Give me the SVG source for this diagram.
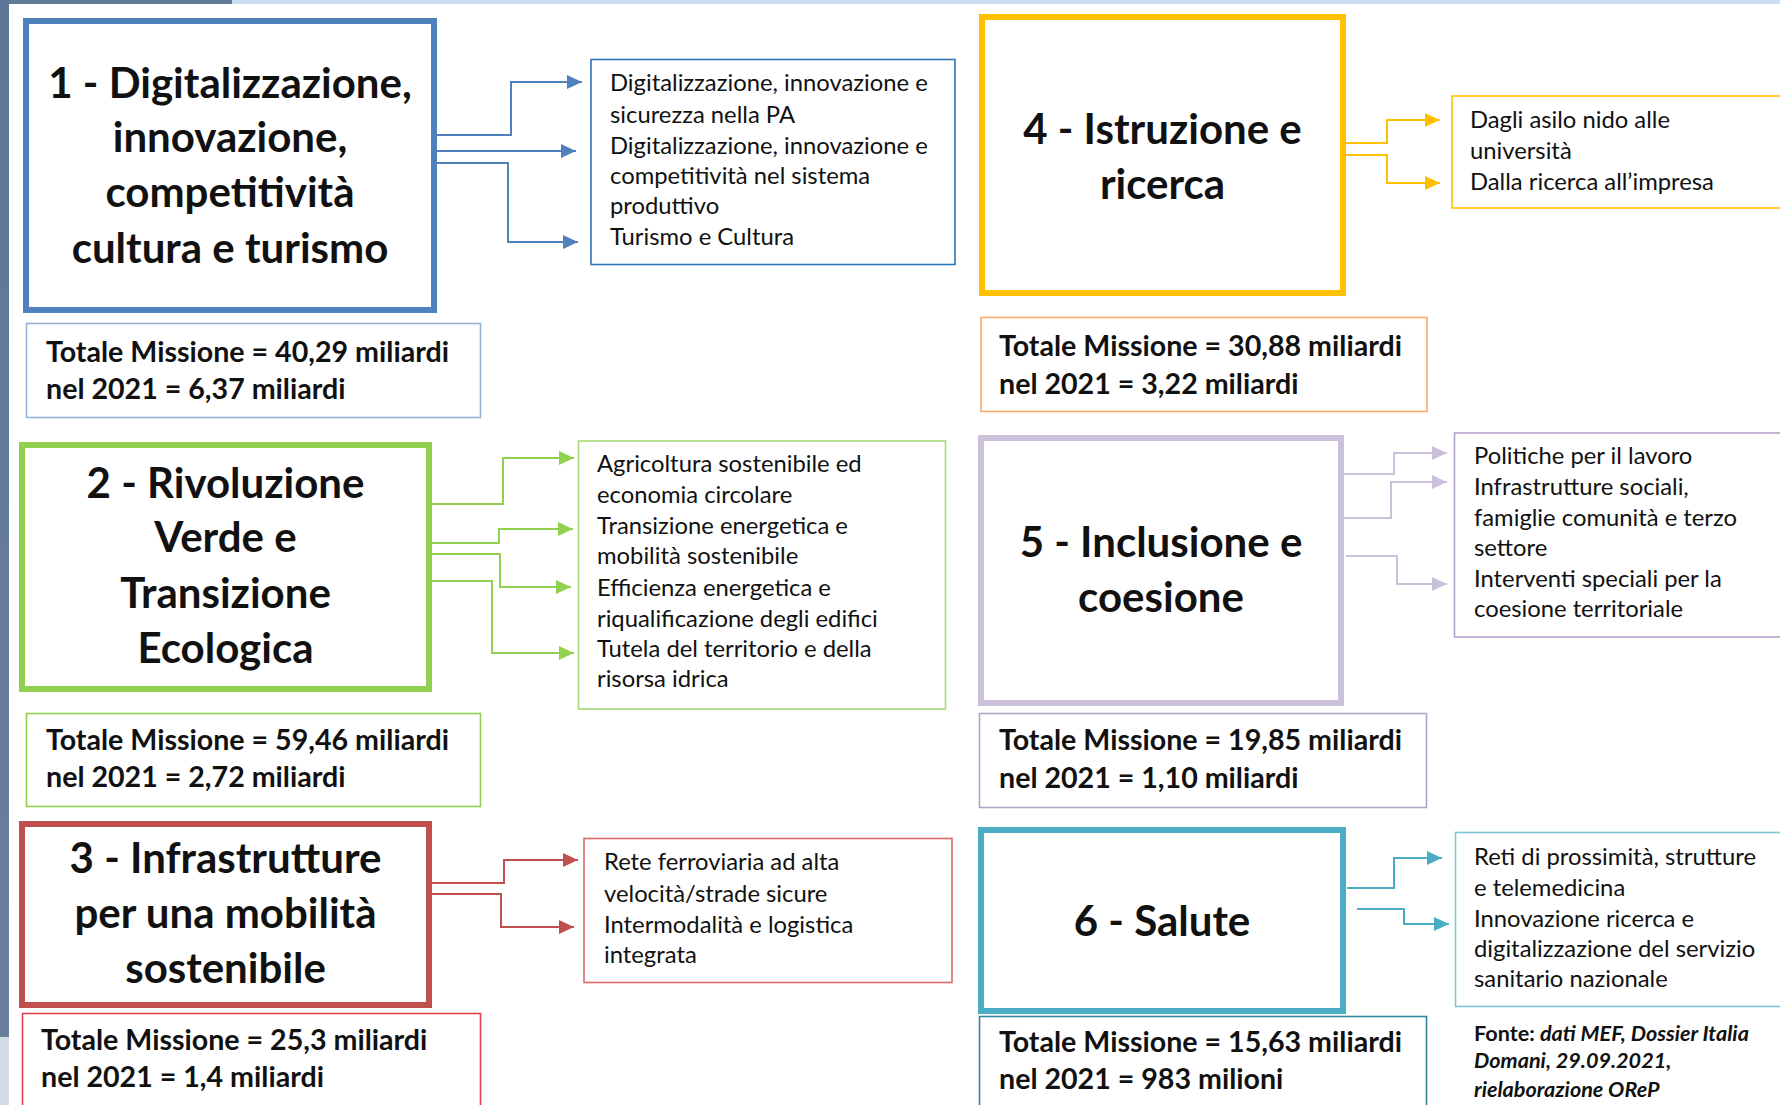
<svg xmlns="http://www.w3.org/2000/svg" width="1780" height="1105" viewBox="0 0 1780 1105">
<style>
.title{font-family:Lato,"Liberation Sans",sans-serif;font-weight:700;font-size:42px;fill:#111;text-anchor:middle}
.tot{font-family:Lato,"Liberation Sans",sans-serif;font-weight:700;font-size:28.6px;fill:#111}
.sub{font-family:Lato,"Liberation Sans",sans-serif;font-size:23.8px;fill:#111}
.src{font-family:Lato,"Liberation Sans",sans-serif;font-weight:700;font-size:21.6px;fill:#111}
.big{fill:#fff;stroke-width:6}
.thin{fill:#fff;stroke-width:1.6}
.c{fill:none;stroke-width:2}
</style>
<defs>
<marker id="aB" markerUnits="userSpaceOnUse" markerWidth="16" markerHeight="16" refX="15" refY="7" orient="auto"><path d="M0,0 L15,7 L0,14 z" fill="#4F81BD"/></marker>
<marker id="aY" markerUnits="userSpaceOnUse" markerWidth="16" markerHeight="16" refX="15" refY="7" orient="auto"><path d="M0,0 L15,7 L0,14 z" fill="#FFC000"/></marker>
<marker id="aG" markerUnits="userSpaceOnUse" markerWidth="16" markerHeight="16" refX="15" refY="7" orient="auto"><path d="M0,0 L15,7 L0,14 z" fill="#92D050"/></marker>
<marker id="aR" markerUnits="userSpaceOnUse" markerWidth="16" markerHeight="16" refX="15" refY="7" orient="auto"><path d="M0,0 L15,7 L0,14 z" fill="#C0504D"/></marker>
<marker id="aL" markerUnits="userSpaceOnUse" markerWidth="16" markerHeight="16" refX="15" refY="7" orient="auto"><path d="M0,0 L15,7 L0,14 z" fill="#CCC1DA"/></marker>
<marker id="aT" markerUnits="userSpaceOnUse" markerWidth="16" markerHeight="16" refX="15" refY="7" orient="auto"><path d="M0,0 L15,7 L0,14 z" fill="#4BACC6"/></marker>
<linearGradient id="side" x1="0" y1="0" x2="0" y2="1"><stop offset="0" stop-color="#5E7696"/><stop offset="1" stop-color="#6A7F9C"/></linearGradient>
</defs>
<rect x="0" y="0" width="1780" height="1105" fill="#fff"/>
<g id="background">
<rect x="0" y="0" width="232" height="4" fill="#617A9A"/>
<rect x="232" y="0" width="1548" height="4" fill="#CADDF0"/>
<rect x="0" y="0" width="9" height="1037" fill="url(#side)"/>
<rect x="0" y="1037" width="9" height="68" fill="#D3DBE6"/>
</g>
<g id="connectors">
<path class="c" stroke="#4F81BD" marker-end="url(#aB)" d="M437,135 H511 V82 H582"/>
<path class="c" stroke="#4F81BD" marker-end="url(#aB)" d="M437,151 H576"/>
<path class="c" stroke="#4F81BD" marker-end="url(#aB)" d="M437,163 H508 V242 H578"/>
<path class="c" stroke="#FFC000" marker-end="url(#aY)" d="M1335,143 H1387 V120 H1440"/>
<path class="c" stroke="#FFC000" marker-end="url(#aY)" d="M1335,155 H1387 V183 H1440"/>
<path class="c" stroke="#92D050" marker-end="url(#aG)" d="M432,504 H503 V458 H574"/>
<path class="c" stroke="#92D050" marker-end="url(#aG)" d="M432,543 H499 V529 H573"/>
<path class="c" stroke="#92D050" marker-end="url(#aG)" d="M432,554 H500 V587 H571"/>
<path class="c" stroke="#92D050" marker-end="url(#aG)" d="M408,581 H492 V653 H574"/>
<path class="c" stroke="#C0504D" marker-end="url(#aR)" d="M432,883 H504 V860 H578"/>
<path class="c" stroke="#C0504D" marker-end="url(#aR)" d="M432,894 H501 V927 H574"/>
<path class="c" stroke="#CCC1DA" marker-end="url(#aL)" d="M1339,474 H1394 V453 H1447"/>
<path class="c" stroke="#CCC1DA" marker-end="url(#aL)" d="M1334,518 H1391 V482 H1447"/>
<path class="c" stroke="#CCC1DA" marker-end="url(#aL)" d="M1346,556 H1397 V584 H1447"/>
<path class="c" stroke="#4BACC6" marker-end="url(#aT)" d="M1347,888 H1394 V858 H1442"/>
<path class="c" stroke="#4BACC6" marker-end="url(#aT)" d="M1357,909 H1404 V924 H1449"/>
</g>
<g id="m1">
<rect class="big" stroke="#4F81BD" x="26" y="21" width="408" height="289"/>
<text class="title" x="230"><tspan x="230" y="98">1 - Digitalizzazione,</tspan><tspan x="230" y="152">innovazione,</tspan><tspan x="230" y="207">competitività</tspan><tspan x="230" y="263">cultura e turismo</tspan></text>
</g>
<g id="m1-total">
<rect class="thin" stroke="#95B3D7" x="26.5" y="323.5" width="454" height="94"/>
<text class="tot"><tspan x="46" y="362">Totale Missione = 40,29 miliardi</tspan><tspan x="46" y="399">nel 2021 = 6,37 miliardi</tspan></text>
</g>
<g id="m1-sub">
<rect class="thin" stroke="#2E75B6" x="591" y="59.5" width="364" height="205"/>
<text class="sub"><tspan x="610" y="91">Digitalizzazione, innovazione e</tspan><tspan x="610" y="123">sicurezza nella PA</tspan><tspan x="610" y="154">Digitalizzazione, innovazione e</tspan><tspan x="610" y="184">competitività nel sistema</tspan><tspan x="610" y="214">produttivo</tspan><tspan x="610" y="245">Turismo e Cultura</tspan></text>
</g>
<g id="m2">
<rect class="big" stroke="#92D050" x="22" y="445" width="407" height="244"/>
<text class="title"><tspan x="225.5" y="498">2 - Rivoluzione</tspan><tspan x="225.5" y="552">Verde e</tspan><tspan x="225.5" y="608">Transizione</tspan><tspan x="225.5" y="663">Ecologica</tspan></text>
</g>
<g id="m2-total">
<rect class="thin" stroke="#92D050" x="26.5" y="713.5" width="454" height="93"/>
<text class="tot"><tspan x="46" y="750">Totale Missione = 59,46 miliardi</tspan><tspan x="46" y="787">nel 2021 = 2,72 miliardi</tspan></text>
</g>
<g id="m2-sub">
<rect class="thin" stroke="#A9DA74" x="578.5" y="441" width="367" height="268"/>
<text class="sub"><tspan x="597" y="472">Agricoltura sostenibile ed</tspan><tspan x="597" y="503">economia circolare</tspan><tspan x="597" y="534">Transizione energetica e</tspan><tspan x="597" y="564">mobilità sostenibile</tspan><tspan x="597" y="596">Efficienza energetica e</tspan><tspan x="597" y="627">riqualificazione degli edifici</tspan><tspan x="597" y="657">Tutela del territorio e della</tspan><tspan x="597" y="687">risorsa idrica</tspan></text>
</g>
<g id="m3">
<rect class="big" stroke="#C0504D" x="22" y="824" width="407" height="181"/>
<text class="title"><tspan x="225.5" y="873">3 - Infrastrutture</tspan><tspan x="225.5" y="928">per una mobilità</tspan><tspan x="225.5" y="983">sostenibile</tspan></text>
</g>
<g id="m3-total">
<rect class="thin" stroke="#E0404A" x="22.5" y="1013.5" width="458" height="100"/>
<text class="tot"><tspan x="41" y="1050">Totale Missione = 25,3 miliardi</tspan><tspan x="41" y="1087">nel 2021 = 1,4 miliardi</tspan></text>
</g>
<g id="m3-sub">
<rect class="thin" stroke="#D9696B" x="584" y="838.5" width="368" height="144"/>
<text class="sub"><tspan x="604" y="870">Rete ferroviaria ad alta</tspan><tspan x="604" y="902">velocità/strade sicure</tspan><tspan x="604" y="933">Intermodalità e logistica</tspan><tspan x="604" y="963">integrata</tspan></text>
</g>
<g id="m4">
<rect class="big" stroke="#FFC000" x="982" y="17" width="361" height="276"/>
<text class="title"><tspan x="1162.5" y="144">4 - Istruzione e</tspan><tspan x="1162.5" y="199">ricerca</tspan></text>
</g>
<g id="m4-total">
<rect class="thin" stroke="#F9A86B" x="981" y="317.5" width="446" height="94"/>
<text class="tot"><tspan x="999" y="356">Totale Missione = 30,88 miliardi</tspan><tspan x="999" y="394">nel 2021 = 3,22 miliardi</tspan></text>
</g>
<g id="m4-sub">
<rect class="thin" stroke="#FFC000" x="1452" y="96" width="340" height="112"/>
<text class="sub"><tspan x="1470" y="128">Dagli asilo nido alle</tspan><tspan x="1470" y="159">università</tspan><tspan x="1470" y="190">Dalla ricerca all’impresa</tspan></text>
</g>
<g id="m5">
<rect class="big" stroke="#CCC1DA" stroke-width="5" x="981" y="438" width="360" height="265"/>
<text class="title"><tspan x="1161" y="557">5 - Inclusione e</tspan><tspan x="1161" y="612">coesione</tspan></text>
</g>
<g id="m5-total">
<rect class="thin" stroke="#B3A2C7" x="979.5" y="713.5" width="447" height="94"/>
<text class="tot"><tspan x="999" y="750">Totale Missione = 19,85 miliardi</tspan><tspan x="999" y="788">nel 2021 = 1,10 miliardi</tspan></text>
</g>
<g id="m5-sub">
<rect class="thin" stroke="#B3A2C7" x="1454.5" y="433" width="340" height="204"/>
<text class="sub"><tspan x="1474" y="464">Politiche per il lavoro</tspan><tspan x="1474" y="495">Infrastrutture sociali,</tspan><tspan x="1474" y="526">famiglie comunità e terzo</tspan><tspan x="1474" y="556">settore</tspan><tspan x="1474" y="587">Interventi speciali per la</tspan><tspan x="1474" y="617">coesione territoriale</tspan></text>
</g>
<g id="m6">
<rect class="big" stroke="#4BACC6" x="981" y="830" width="362" height="181"/>
<text class="title"><tspan x="1162" y="936">6 - Salute</tspan></text>
</g>
<g id="m6-total">
<rect class="thin" stroke="#31859C" x="979.5" y="1016.5" width="447" height="100"/>
<text class="tot"><tspan x="999" y="1052">Totale Missione = 15,63 miliardi</tspan><tspan x="999" y="1089">nel 2021 = 983 milioni</tspan></text>
</g>
<g id="m6-sub">
<rect class="thin" stroke="#7FC4D8" x="1455.5" y="832.5" width="340" height="174"/>
<text class="sub"><tspan x="1474" y="865">Reti di prossimità, strutture</tspan><tspan x="1474" y="896">e telemedicina</tspan><tspan x="1474" y="927">Innovazione ricerca e</tspan><tspan x="1474" y="957">digitalizzazione del servizio</tspan><tspan x="1474" y="987">sanitario nazionale</tspan></text>
</g>
<g id="source">
<text class="src"><tspan x="1474" y="1041">Fonte: <tspan font-style="italic">dati MEF, Dossier Italia</tspan></tspan><tspan x="1474" y="1068" font-style="italic">Domani, 29.09.2021,</tspan><tspan x="1474" y="1097" font-style="italic">rielaborazione OReP</tspan></text>
</g>
</svg>
